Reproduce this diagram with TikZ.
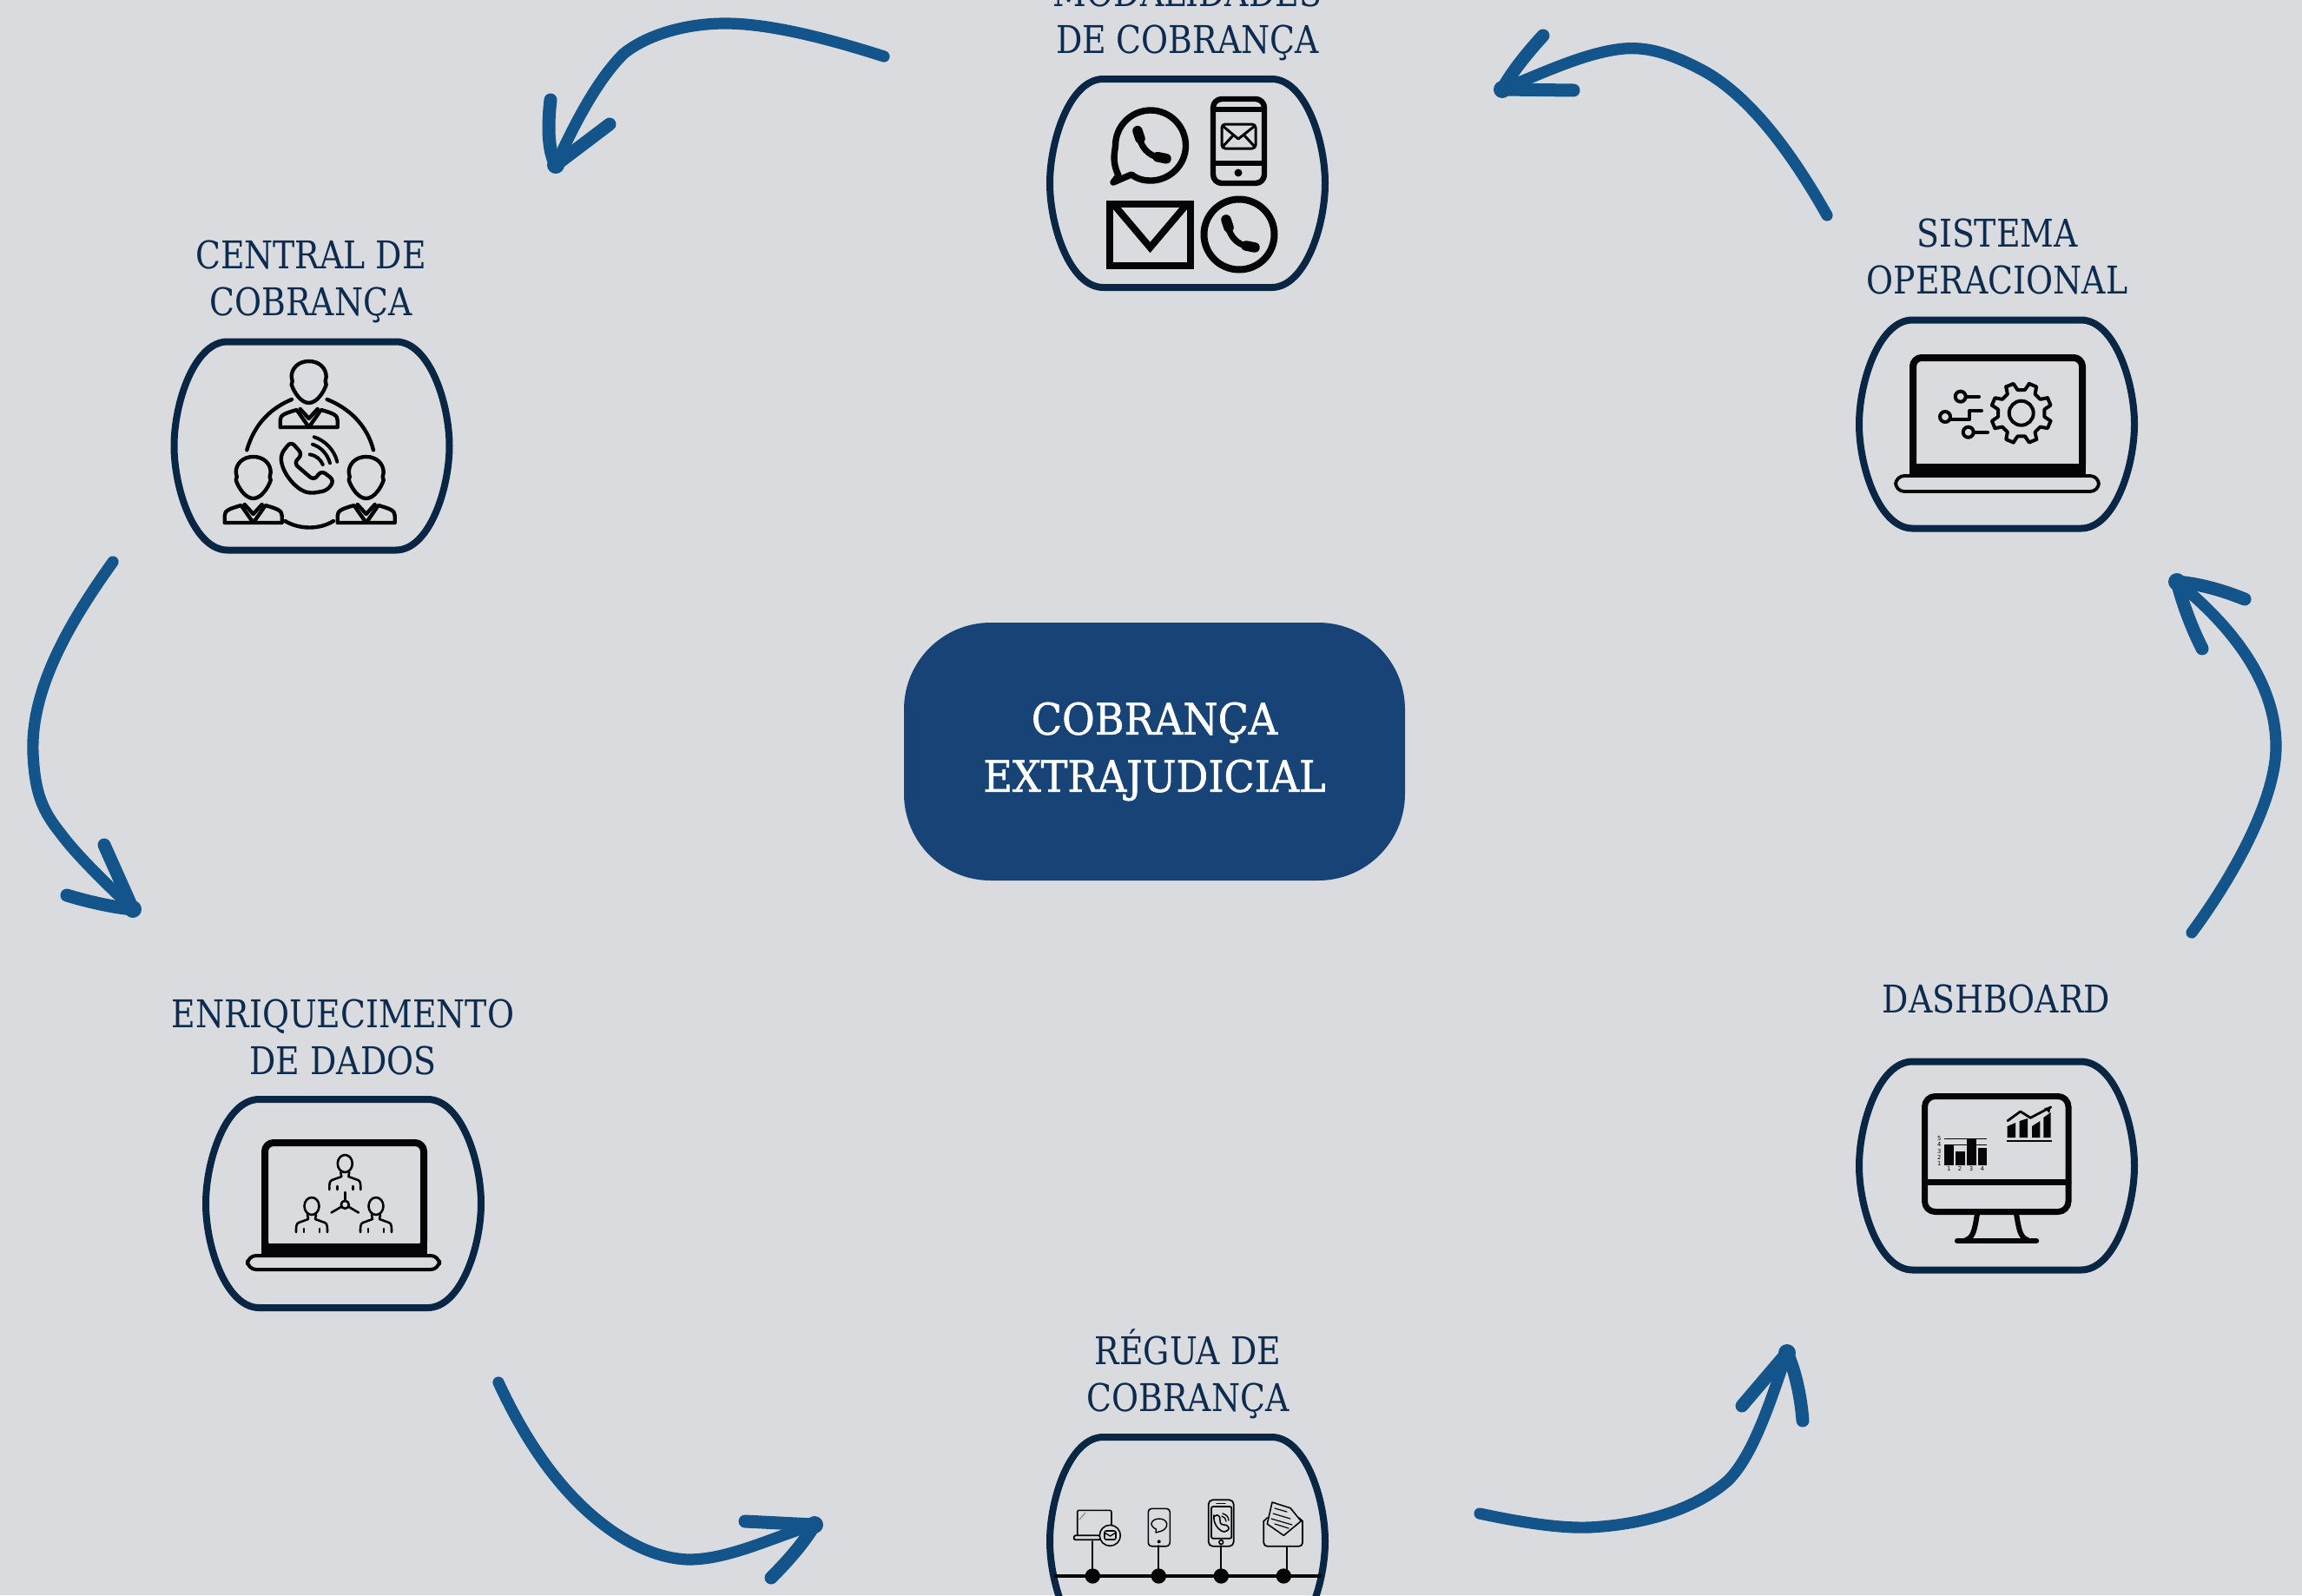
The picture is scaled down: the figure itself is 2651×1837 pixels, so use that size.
\documentclass[tikz,border=0pt]{standalone}
\usepackage{fontspec}
\setmainfont{DejaVu Serif}[FakeStretch=0.86]
\newfontfamily\centerfont{DejaVu Serif}[FakeStretch=0.92,FakeBold=1.2]
\newfontfamily\tinyfont{DejaVu Sans}
\definecolor{bgcol}{HTML}{D9DBDF}
\definecolor{framecol}{HTML}{0A2645}
\definecolor{labcol}{HTML}{0C2B4E}
\definecolor{arrowcol}{HTML}{13548A}
\definecolor{hubcol}{HTML}{184376}
\definecolor{inkcol}{HTML}{050505}
\tikzset{
  lab/.style={align=center,inner sep=0pt,text=labcol,font=\fontsize{22}{27}\selectfont,anchor=base},
  slot/.style={inner sep=0pt,minimum width=162.5pt,minimum height=124pt,draw=none},
  frameline/.style={draw=framecol,line width=4pt,line join=round},
  shaft/.style={draw=arrowcol,line width=6.6pt,line cap=round,line join=round},
  barb/.style={draw=arrowcol,line width=7.5pt,line cap=round,line join=round},
  ink/.style={draw=inkcol,line cap=round,line join=round},
  inkfill/.style={fill=inkcol,draw=none},
}
\newcommand{\barrelat}[2]{%
  \node[slot] (#1) at (#2) {};
  \begin{scope}[shift={(#2)}]
    \draw[frameline] (-97,-120) -- (97,-120) .. controls (135,-120) and (158.5,-50) .. (158.5,0)
      .. controls (158.5,50) and (135,120) .. (97,120) -- (-97,120)
      .. controls (-135,120) and (-158.5,50) .. (-158.5,0)
      .. controls (-158.5,-50) and (-135,-120) .. (-97,-120) -- cycle;
  \end{scope}}
\newcommand{\handsetat}[1]{%
  \begin{scope}[shift={(#1)}]
    \draw[ink,line width=3.6pt] (-14,-14) .. controls (-12,0) and (-4,12) .. (12,14);
    \draw[ink,line width=5.8pt] (-15,-17) -- (-12,-8);
    \draw[ink,line width=5.8pt] (8,13) -- (18,15);
  \end{scope}}
\newcommand{\personbig}[1]{%
  \begin{scope}[shift={(#1)}]
    \draw[ink,line width=2.2pt] (0,-24) .. controls (-12,-24) and (-20,-16) .. (-20,-6)
       -- (-19,-1) -- (-20,3) .. controls (-17,12) and (-9,24) .. (0,24)
       .. controls (9,24) and (17,12) .. (20,3) -- (19,-1) -- (20,-6)
       .. controls (20,-16) and (12,-24) .. (0,-24) -- cycle;
    \draw[ink,line width=2.2pt] (-33,52) -- (33,52) -- (33,44) .. controls (33,38) and (28,36) .. (14,32) -- (0,52)
       -- (-14,32) .. controls (-28,36) and (-33,38) .. (-33,44) -- cycle;
    \draw[ink,line width=2.2pt] (-10,31) -- (0,42) -- (10,31);
  \end{scope}}
\newcommand{\personsmall}[1]{%
  \begin{scope}[shift={(#1)}]
    \draw[ink,line width=1.3pt] (0,0) ellipse [x radius=8.5,y radius=10];
    \draw[ink,line width=1.3pt] (-5,10) -- (-4,15) -- (-15,19) .. controls (-18,20) and (-18,24) .. (-18,30);
    \draw[ink,line width=1.3pt] (5,10) -- (4,15) -- (15,19) .. controls (18,20) and (18,24) .. (18,30);
    \draw[ink,line width=1.3pt] (-9,26) -- (-9,30);
    \draw[ink,line width=1.3pt] (9,26) -- (9,30);
  \end{scope}}
\begin{document}
\begin{tikzpicture}[x=0.5pt,y=-0.5pt]
\fill[bgcol] (0,0) rectangle (2651,1837);
\useasboundingbox (0,0) rectangle (2651,1837);
\clip (0,0) rectangle (2651,1837);

% centre
\node[fill=hubcol,rounded corners=50pt,minimum width=288.5pt,minimum height=148.5pt,inner sep=0pt,
      text=white,align=center,font=\centerfont\fontsize{25}{33}\selectfont] (hub) at (1329.5,865.5)
      {COBRANÇA\\EXTRAJUDICIAL};

% frames
\barrelat{fmod}{1367.5,211}
\barrelat{fsis}{2299.5,488.5}
\barrelat{fcen}{359,513.5}
\barrelat{fenr}{395.5,1386}
\barrelat{freg}{1367.5,1775}
\barrelat{fdas}{2299.5,1342.5}

% labels
\node[lab] (lmod) at (1367.5,61) {MODALIDADES\\DE COBRANÇA};
\node[lab] (lsis) at (2300,338.5) {SISTEMA\\OPERACIONAL};
\node[lab] (lcen) at (358,363.5) {CENTRAL DE\\COBRANÇA};
\node[lab] (lenr) at (395,1237.5) {ENRIQUECIMENTO\\DE DADOS};
\node[lab] (lreg) at (1368,1625.5) {RÉGUA DE\\COBRANÇA};
\node[lab] (ldas) at (2299,1166.5) {DASHBOARD};

% arrow ends
\coordinate (a1s) at (1018,65);   \coordinate (a1e) at (640,190);
\coordinate (a1u) at (634,115);   \coordinate (a1l) at (702,143);
\coordinate (a2s) at (2104,248);  \coordinate (a2e) at (1730,103);
\coordinate (a2u) at (1777,41);   \coordinate (a2l) at (1812,104);
\coordinate (a3s) at (130,647);   \coordinate (a3e) at (153,1047);
\coordinate (a3u) at (120,973);   \coordinate (a3l) at (77,1031);
\coordinate (a4s) at (574,1592);  \coordinate (a4e) at (938,1756);
\coordinate (a4u) at (858,1752);  \coordinate (a4l) at (888,1817);
\coordinate (a5s) at (1704,1743); \coordinate (a5e) at (2058,1558);
\coordinate (a5u) at (2006,1619); \coordinate (a5l) at (2076,1636);
\coordinate (a6s) at (2524,1074); \coordinate (a6e) at (2507,670);
\coordinate (a6u) at (2585,690);  \coordinate (a6l) at (2536,747);

\draw[shaft] (a1s) .. controls (940,40) and (880,27) .. (835,27) .. controls (790,27) and (745,40) .. (718,62) .. controls (690,90) and (665,135) .. (a1e);
\draw[barb] (a1u) .. controls (630,150) and (632,175) .. (a1e) -- (a1l);
\fill[arrowcol] (a1e) circle [radius=10];
\draw[shaft] (a2s) .. controls (2060,170) and (2010,105) .. (1955,78) .. controls (1920,60) and (1895,54) .. (1870,56) .. controls (1830,60) and (1790,78) .. (a2e);
\draw[barb] (a2u) .. controls (1755,65) and (1740,85) .. (a2e) -- (a2l);
\fill[arrowcol] (a2e) circle [radius=10];
\draw[shaft] (a3s) .. controls (85,710) and (35,790) .. (38,867) .. controls (40,915) and (50,935) .. (70,960) .. controls (90,987) and (125,1020) .. (a3e);
\draw[barb] (a3u) -- (a3e) .. controls (130,1045) and (100,1038) .. (a3l);
\fill[arrowcol] (a3e) circle [radius=10];
\draw[shaft] (a4s) .. controls (610,1670) and (650,1720) .. (690,1752) .. controls (725,1780) and (760,1795) .. (793,1796) .. controls (840,1796) and (890,1770) .. (a4e);
\draw[barb] (a4u) -- (a4e) .. controls (925,1778) and (905,1800) .. (a4l);
\fill[arrowcol] (a4e) circle [radius=10];
\draw[shaft] (a5s) .. controls (1760,1755) and (1800,1760) .. (1830,1759) .. controls (1890,1756) and (1950,1740) .. (1990,1705) .. controls (2020,1675) and (2040,1610) .. (a5e);
\draw[barb] (a5u) -- (a5e) .. controls (2068,1580) and (2074,1610) .. (a5l);
\fill[arrowcol] (a5e) circle [radius=10];
\draw[shaft] (a6s) .. controls (2575,1005) and (2620,920) .. (2621,862) .. controls (2622,790) and (2575,725) .. (a6e);
\draw[barb] (a6u) .. controls (2555,678) and (2530,672) .. (a6e) .. controls (2515,700) and (2525,725) .. (a6l);
\fill[arrowcol] (a6e) circle [radius=10];

% --- Modalidades icons
\draw[ink,line width=3.7pt] (1288,202) .. controls (1280,185) and (1284,175) .. (1284.5,167.7)
   .. controls (1284.5,145) and (1303,127) .. (1325,127)
   .. controls (1347,127) and (1365.5,145) .. (1365.5,167.7)
   .. controls (1365.5,190) and (1347,208) .. (1325,208)
   .. controls (1315,208) and (1308,205) .. (1303,201) -- (1282,210) -- cycle;
\handsetat{1325,167.7}
\draw[ink,line width=3.2pt,rounded corners=5pt] (1397,114) rectangle (1456,211);
\draw[ink,line width=3.2pt] (1397,126) -- (1456,126);
\draw[ink,line width=3.2pt] (1397,188) -- (1456,188);
\fill[inkcol] (1426,199) circle [radius=4.5];
\draw[ink,line width=1.5pt,rounded corners=2pt] (1407,143) rectangle (1446,171);
\draw[ink,line width=1.5pt] (1408,145) -- (1426,160) -- (1445,145);
\draw[ink,line width=1.5pt] (1408,169) -- (1420,156);
\draw[ink,line width=1.5pt] (1445,169) -- (1433,156);
\draw[draw=inkcol,line width=4pt,miter limit=10] (1278,235) rectangle (1371,306);
\draw[draw=inkcol,line width=4pt] (1283,236) -- (1324.5,285) -- (1366,236);
\draw[ink,line width=4pt] (1427,270) circle [radius=40.5];
\handsetat{1427,270}

% --- Sistema laptop
\draw[ink,line width=4pt,rounded corners=5pt] (2203,412) rectangle (2398,545);
\fill[inkcol] (2199,534) rectangle (2402,550);
\draw[ink,line width=1.9pt,rounded corners=5pt] (2183,548) -- (2417,548) -- (2417,566) -- (2183,566) -- cycle;
\fill[inkcol] (2199,546) rectangle (2402,549);
\draw[ink,line width=2pt] (2327.7,475.7) circle [radius=14];
\begin{scope}[shift={(2327.7,475.7)}]
\foreach \k in {0,...,7}{
  \draw[ink,line width=2pt] ({\k*45+15}:35) -- ({\k*45+30}:35) -- ({\k*45+36}:27) -- ({\k*45+54}:27) -- ({\k*45+60}:35);
}
\end{scope}
\draw[ink,line width=2pt] (2257.7,456.7) circle [radius=6];
\draw[ink,line width=2pt] (2265,456.7) -- (2279,456.7);
\draw[ink,line width=2pt] (2240,480) circle [radius=6];
\draw[ink,line width=2pt] (2247,483) -- (2268,483) -- (2268,473) -- (2282,473);
\draw[ink,line width=2pt] (2266.7,497.7) circle [radius=6];
\draw[ink,line width=2pt] (2274,497.7) -- (2289,497.7);

% --- Central icons
\personbig{355.7,440}
\personbig{291.7,550}
\personbig{421.7,550}
\draw[ink,line width=2.2pt] (284.3,518.3) .. controls (293,488) and (312,470) .. (336,460);
\draw[ink,line width=2.2pt] (376.7,460) .. controls (402,470) and (423,490) .. (430,518.3);
\draw[ink,line width=2.2pt] (328.3,600) .. controls (345,610) and (368,610) .. (384,600);
\draw[ink,line width=2.2pt,rounded corners=3pt] (335,508.3) -- (323.3,523.3) .. controls (325,545) and (340,562) .. (356.7,568.3)
   -- (376.7,565) -- (385,553.3) -- (370,541.7) -- (361.7,553.3) -- (338.3,533.3) -- (348.3,523.3) -- cycle;
\draw[ink,line width=2pt] (356.7,523.3) .. controls (365,525) and (369,529) .. (371.7,535);
\draw[ink,line width=2pt] (360,511.7) .. controls (370,515) and (377,523) .. (380,533.3);
\draw[ink,line width=2pt] (361.7,503.3) .. controls (374,507) and (385,518) .. (388.3,531.7);

% --- Enriquecimento icons
\draw[ink,line width=4pt,rounded corners=5pt] (305,1316) rectangle (488,1440);
\fill[inkcol] (301,1431.7) rectangle (492,1447);
\draw[ink,line width=2pt,rounded corners=5pt] (285,1446) -- (506,1446) -- (506,1462) -- (285,1462) -- cycle;
\personsmall{397.3,1340}
\personsmall{359,1389}
\personsmall{433,1389}
\draw[ink,line width=1.3pt] (397.3,1387.3) circle [radius=4.5];
\draw[ink,line width=1.3pt] (397.3,1383) -- (397.3,1373);
\draw[ink,line width=1.3pt] (393.5,1389.5) -- (381.5,1396.5);
\draw[ink,line width=1.3pt] (401,1389.5) -- (413,1396.5);

% --- Dashboard icons
\draw[ink,line width=3.5pt,rounded corners=6pt] (2216.5,1262.5) rectangle (2382,1395.5);
\draw[ink,line width=3.5pt] (2216.5,1361.7) -- (2382,1361.7);
\draw[ink,line width=3pt] (2277,1398) .. controls (2274,1415) and (2273,1425) .. (2264,1428);
\draw[ink,line width=3pt] (2322,1398) .. controls (2325,1415) and (2326,1425) .. (2335,1428);
\draw[ink,line width=3.2pt] (2254,1429) -- (2345,1429);
\fill[inkcol] (2239.3,1319) rectangle (2250,1341.7);
\fill[inkcol] (2252.3,1326) rectangle (2262.7,1341.7);
\fill[inkcol] (2265,1311.7) rectangle (2275.7,1341.7);
\fill[inkcol] (2277.7,1322.3) rectangle (2288.3,1341.7);
\draw[inkcol,line width=0.3pt] (2239,1311) -- (2288,1311);
\draw[inkcol,line width=0.3pt] (2239,1318.3) -- (2288,1318.3);
\foreach \lv/\ly in {5/1311,4/1318.3,3/1325.7,2/1332.7,1/1340}{
  \node[inner sep=0pt,text=inkcol,font=\tinyfont\fontsize{3.4}{4}\selectfont] (yt\lv) at (2233.3,\ly) {\lv};
}
\foreach \lv/\lx in {1/2244.3,2/2257,3/2270,4/2282.7}{
  \node[inner sep=0pt,text=inkcol,font=\tinyfont\fontsize{3.4}{4}\selectfont] (xt\lv) at (\lx,1346) {\lv};
}
\fill[inkcol] (2311.7,1310) -- (2311.7,1297) -- (2321,1293) -- (2321,1310) -- cycle;
\fill[inkcol] (2325.7,1310) -- (2325.7,1291) -- (2335,1288) -- (2335,1310) -- cycle;
\fill[inkcol] (2340,1310) -- (2340,1297) -- (2349.3,1291) -- (2349.3,1310) -- cycle;
\fill[inkcol] (2353.3,1310) -- (2353.3,1287) -- (2361.7,1281) -- (2361.7,1310) -- cycle;
\draw[inkcol,line width=1.3pt] (2310.7,1314) -- (2362.7,1314);
\draw[ink,line width=1.4pt] (2312,1290.7) -- (2326.7,1280) -- (2338.3,1287.3) -- (2361.7,1275);
\fill[inkcol] (2361.7,1275) -- (2354,1276) -- (2360,1282) -- cycle;

% --- Regua icons
\draw[ink,line width=1.6pt] (1215,1815) -- (1520.7,1815);
\foreach \dx/\dy/\dn in {1258.3/1775/d1,1334.3/1780/d2,1406.3/1780/d3,1481.7/1781/d4}{
  \coordinate (\dn) at (\dx,\dy);
  \draw[ink,line width=1pt] (\dn) -- (\dx,1815);
}
\fill[inkcol] (1258.3,1815) circle [radius=8.7];
\fill[inkcol] (1334.3,1815) circle [radius=8.7];
\fill[inkcol] (1406.3,1815) circle [radius=8.7];
\fill[inkcol] (1478.3,1815) circle [radius=8.7];
% laptop with mail
\draw[ink,line width=0.8pt,rounded corners=1pt] (1240.7,1768.3) -- (1240.7,1739.3) -- (1280,1739.3) -- (1280,1757);
\draw[ink,line width=0.9pt,rounded corners=1pt] (1236.7,1768.3) rectangle (1267,1773.3);
\draw[gray,line width=0.5pt] (1243,1750) -- (1250,1742);
\draw[ink,line width=0.8pt,fill=bgcol] (1278.3,1768.3) circle [radius=12];
\draw[ink,line width=0.8pt,rounded corners=1pt] (1272,1763) rectangle (1285,1773);
\draw[ink,line width=0.7pt] (1272,1765) -- (1278.5,1769) -- (1285,1765);
% phone with bubble
\draw[ink,line width=0.8pt,rounded corners=2pt] (1322.3,1737.3) rectangle (1347.3,1780.7);
\draw[ink,line width=0.7pt] (1331,1765) -- (1331.5,1761) .. controls (1322,1757) and (1326,1749) .. (1335,1749)
   .. controls (1345,1749) and (1347,1759) .. (1338,1763) -- cycle;
\fill[inkcol] (1334.7,1775.3) circle [radius=2];
% phone with call
\draw[ink,line width=0.9pt,rounded corners=2.5pt] (1391.7,1727.3) rectangle (1420.7,1780.7);
\draw[ink,line width=0.9pt,rounded corners=1pt] (1395,1735) rectangle (1418.3,1771.7);
\draw[ink,line width=0.9pt] (1401,1731.5) -- (1411,1731.5);
\draw[ink,line width=0.8pt] (1406.3,1776) circle [radius=2.4];
\draw[ink,line width=0.8pt,rounded corners=1pt] (1398,1747) -- (1402,1744) -- (1406,1749) -- (1404,1752) -- (1408,1757) -- (1411,1755) -- (1416,1760) -- (1412,1764) .. controls (1405,1764) and (1398,1756) .. cycle;
\draw[ink,line width=0.7pt] (1407,1746) .. controls (1410,1747) and (1412,1749) .. (1412,1752);
\draw[ink,line width=0.7pt] (1408,1743) .. controls (1412,1744) and (1415,1747) .. (1415,1751);
% envelope with letter
\draw[ink,line width=0.9pt,rounded corners=2pt] (1455.3,1751.7) -- (1455.3,1780.7) -- (1500,1780.7) -- (1500,1751.7);
\draw[ink,line width=0.8pt] (1455.3,1751.7) -- (1459.3,1748);
\draw[ink,line width=0.8pt] (1500,1751.7) -- (1496,1748);
\draw[ink,line width=0.8pt,fill=bgcol] (1465,1730) -- (1486,1736.7) -- (1498.3,1751.7) -- (1478.3,1768.3) -- (1459.3,1755) -- cycle;
\draw[ink,line width=0.6pt] (1468,1737) -- (1482,1741);
\draw[ink,line width=0.6pt] (1466,1743) -- (1486,1749);
\draw[ink,line width=0.6pt] (1464,1749) -- (1488,1756);
\draw[ink,line width=0.6pt] (1468,1755) -- (1484,1760);
\end{tikzpicture}
\end{document}
